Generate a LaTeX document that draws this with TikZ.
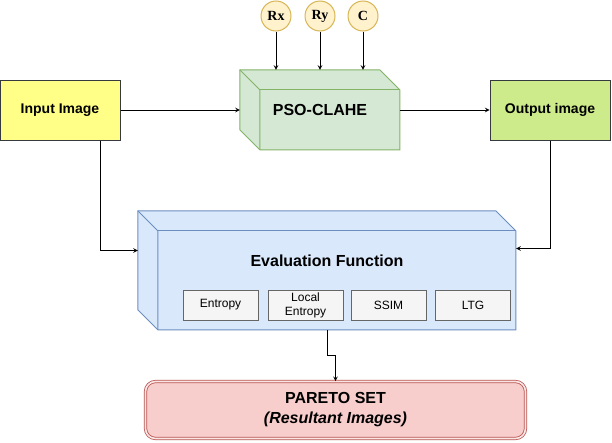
\documentclass[tikz,border=0pt]{standalone}
\usepackage{fontspec}
\setmainfont{Liberation Sans}
\newfontfamily\serifface{Liberation Serif}
\usepackage{tikz}
\usetikzlibrary{arrows,shapes,positioning}
\usepackage{xcolor}
\definecolor{imgline}{RGB}{54,57,61}
\definecolor{inyellow}{RGB}{255,255,136}
\definecolor{outgreen}{RGB}{205,235,139}
\definecolor{psofill}{RGB}{213,232,212}
\definecolor{psoline}{RGB}{130,179,102}
\definecolor{evalfill}{RGB}{218,232,252}
\definecolor{evalline}{RGB}{108,142,191}
\definecolor{metfill}{RGB}{245,245,245}
\definecolor{metline}{RGB}{102,102,102}
\definecolor{parfill}{RGB}{255,242,204}
\definecolor{parline}{RGB}{214,182,86}
\definecolor{setfill}{RGB}{248,206,204}
\definecolor{setline}{RGB}{184,84,80}
\tikzstyle{arrow} = [line width=1pt,->,>=stealth,color=black]
\tikzstyle{imagebox} = [rectangle, minimum width=120pt, minimum height=60pt, text centered, draw=imgline, line width=1pt, font=\fontsize{14}{16}\selectfont\bfseries]
\tikzstyle{param} = [circle, minimum size=30pt, inner sep=0pt, draw=parline, fill=parfill, line width=1pt, font=\serifface\fontsize{14}{16}\selectfont\bfseries]
\tikzstyle{metric} = [rectangle, minimum width=75pt, minimum height=30pt, inner sep=1pt, align=center, draw=metline, fill=metfill, line width=0.8pt, font=\fontsize{12}{14}\selectfont]

\begin{document}
\begin{tikzpicture}[x=1pt, y=-1pt]
\useasboundingbox (0,0) rectangle (612,442);

% Input and output images
\node[imagebox, fill=inyellow] (inp) at (60,110) {Input Image};
\node[imagebox, fill=outgreen] (outp) at (550,110) {Output image};

% PSO-CLAHE cube
\node[minimum width=160pt, minimum height=80pt, font=\fontsize{16}{18}\selectfont\bfseries] (pso) at (320,110) {};
\draw[draw=psoline, fill=psofill, line width=1pt] (pso.north west) -- ++(140,0) -- ++(20,20) -- ++(0,60) -- ++(-140,0) -- ++(-20,-20) -- cycle;
\draw[draw=psoline, line width=1pt] (pso.north west) -- ++(20,20) -- ++(0,60);
\draw[draw=psoline, line width=1pt] (pso.north west) ++(20,20) -- ++(140,0);
\node[font=\fontsize{16}{18}\selectfont\bfseries] (psotitle) at (pso) {PSO-CLAHE};

% Parameters
\node[param] (rx) at (276,16) {Rx};
\node[param] (ry) at (320,16) {Ry};
\node[param] (cl) at (363,16) {C};
\draw[arrow] (rx) -- (rx |- pso.north);
\draw[arrow] (ry) -- (ry |- pso.north);
\draw[arrow] (cl) -- (cl |- pso.north);

% Evaluation cube
\node[minimum width=378pt, minimum height=119pt] (eval) at (327,270.5) {};
\draw[draw=evalline, fill=evalfill, line width=1pt] (eval.north west) -- ++(358,0) -- ++(20,20) -- ++(0,99) -- ++(-358,0) -- ++(-20,-20) -- cycle;
\draw[draw=evalline, line width=1pt] (eval.north west) -- ++(20,20) -- ++(0,99);
\draw[draw=evalline, line width=1pt] (eval.north west) ++(20,20) -- ++(358,0);
\node[font=\fontsize{16}{18}\selectfont\bfseries] (evaltitle) at (327,261) {Evaluation Function};

% Metrics
\node[metric] (entropy) at (220.5,305) {Entropy};
\node[metric] (local) at (305.5,305) {Local\\Entropy};
\node[metric] (ssim) at (388.5,305) {SSIM};
\node[metric] (ltg) at (473,305) {LTG};

% Pareto set
\node[rectangle, rounded corners=10pt, minimum width=380pt, minimum height=57pt, align=center, draw=setline, double=setfill!50!white, double distance=1.6pt, line width=0.8pt, fill=setfill, font=\fontsize{16}{20}\selectfont\bfseries] (pareto) at (335.5,410) {PARETO SET\\\itshape(Resultant Images)};

% Arrows
\draw[arrow] (inp) -- (pso);
\draw[arrow] (pso) -- (outp);
\draw[arrow] ([xshift=40pt]inp.south) |- ([yshift=20pt]eval.west);
\draw[arrow] (outp.south) |- ([yshift=22pt]eval.east);
\draw[arrow] (eval.south) -- ++(0,25) -| (pareto.north);
\end{tikzpicture}
\end{document}
